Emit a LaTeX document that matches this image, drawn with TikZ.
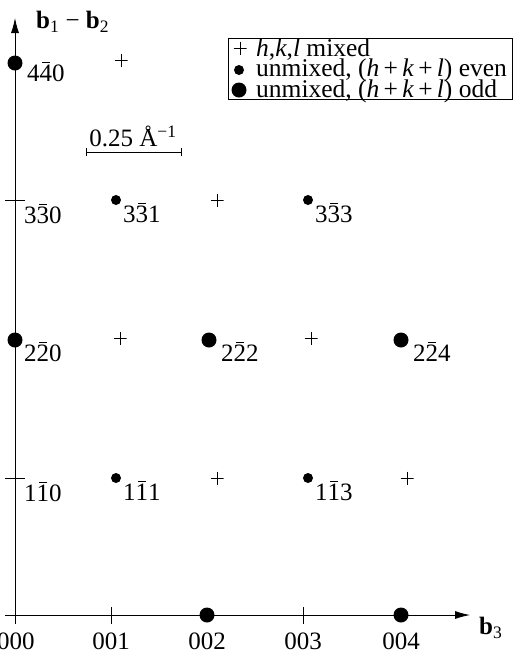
\documentclass[tikz,border=0pt]{standalone}
\usepackage{fontspec}
\setmainfont{Liberation Serif}
\usetikzlibrary{arrows.meta}
\newcommand\nb[1]{\ooalign{#1\cr\hidewidth\raisebox{0.74em}{\rule{0.3em}{0.05em}}\hidewidth\cr}}
\tikzset{
  lbl/.style={font=\fontsize{25}{27}\selectfont, inner sep=0pt},
  legtxt/.style={font=\fontsize{25.5}{27}\selectfont, inner sep=0pt, anchor=base west, text height=13pt, text depth=4pt},
  hkl/.style={lbl, anchor=north west},
  sdot/.style={circle, fill=black, inner sep=0pt, minimum size=10pt},
  bdot/.style={circle, fill=black, inner sep=0pt, minimum size=15pt},
  pls/.style={inner sep=0pt, minimum size=13pt, path picture={\draw[line width=0.6pt] (path picture bounding box.west)--(path picture bounding box.east) (path picture bounding box.north)--(path picture bounding box.south);}},
  axis/.style={line width=0.8pt, -{Latex[length=15pt,width=8pt]}},
  tick/.style={line width=0.8pt}
}
\begin{document}
\begin{tikzpicture}[x=1pt,y=-1pt]
\useasboundingbox (0,0) rectangle (528,657);
% axes
\coordinate (xs) at (5,615);
\coordinate (xe) at (470,615);
\coordinate (ys) at (15,624);
\coordinate (ye) at (15,18);
\draw[axis] (xs) -- (xe);
\draw[axis] (ys) -- (ye);
\node[lbl, anchor=west] (b3) at (479,628) {\textbf{b}\textsubscript{3}};
\node[lbl, anchor=west] (b12) at (36,22) {\textbf{b}\textsubscript{1} − \textbf{b}\textsubscript{2}};
% ticks on x axis
\foreach \x/\n in {111/t1,303/t3}{
  \coordinate (\n a) at (\x,607); \coordinate (\n b) at (\x,624);
  \draw[tick] (\n a) -- (\n b);
}
% ticks on y axis
\foreach \y/\n in {478/u1,200/u3}{
  \coordinate (\n a) at (5,\y); \coordinate (\n b) at (25,\y);
  \draw[tick] (\n a) -- (\n b);
}
% bottom labels
\foreach \x/\t in {16/000,111/001,207/002,303/003,401/004}{
  \node[lbl] (l\t) at (\x,641) {\t};
}
% row 0
\node[bdot] (p002) at (207,615) {};
\node[bdot] (p004) at (401,615) {};
% row 1
\node[hkl] (l110) at (24,485) {1\nb{1}0};
\node[sdot] (p111) at (116,478) {};
\node[hkl] (l111) at (p111.center) [xshift=7pt, yshift=-6pt] {1\nb{1}1};
\node[pls] (m112) at (217,478) {};
\node[sdot] (p113) at (308,478) {};
\node[hkl] (l113) at (p113.center) [xshift=7pt, yshift=-6pt] {1\nb{1}3};
\node[pls] (m114) at (407,478) {};
% row 2
\node[bdot] (p220) at (15,340) {};
\node[hkl] (l220) at (p220.center) [xshift=9pt, yshift=-5pt] {2\nb{2}0};
\node[pls] (m221) at (120,338) {};
\node[bdot] (p222) at (209,340) {};
\node[hkl] (l222) at (p222.center) [xshift=12pt, yshift=-5pt] {2\nb{2}2};
\node[pls] (m223) at (311,338) {};
\node[bdot] (p224) at (401,340) {};
\node[hkl] (l224) at (p224.center) [xshift=12pt, yshift=-5pt] {2\nb{2}4};
% row 3
\node[hkl] (l330) at (24,207) {3\nb{3}0};
\node[sdot] (p331) at (116,200) {};
\node[hkl] (l331) at (p331.center) [xshift=7pt, yshift=-6pt] {3\nb{3}1};
\node[pls] (m332) at (217,200) {};
\node[sdot] (p333) at (308,200) {};
\node[hkl] (l333) at (p333.center) [xshift=7pt, yshift=-6pt] {3\nb{3}3};
% row 4
\node[bdot] (p440) at (15,63) {};
\node[hkl] (l440) at (p440.center) [xshift=12pt, yshift=-2pt] {4\nb{4}0};
\node[pls] (m441) at (121,60) {};
% scale bar
\coordinate (sa) at (86,152);
\coordinate (sb) at (181,152);
\draw[tick] (sa) -- (sb);
\draw[tick] ([yshift=-4pt]sa) -- ([yshift=4pt]sa);
\draw[tick] ([yshift=-4pt]sb) -- ([yshift=4pt]sb);
\node[lbl, anchor=south] (sl) at (133,147) {0.25 Å\textsuperscript{−1}};
% legend
\node[draw, line width=0.9pt, minimum width=284pt, minimum height=61pt, anchor=north west, inner sep=0pt] (leg) at (228,38) {};
\node[pls] (lg1) at (240,48) {};
\node[legtxt] (lt1) at (256,56) {\textit{h},\textit{k},\textit{l} mixed};
\node[sdot] (lg2) at (239,70) {};
\node[legtxt] (lt2) at (256,76.5) {unmixed, (\textit{h}\,+\,\textit{k}\,+\,\textit{l}) even};
\node[bdot] (lg3) at (239,90) {};
\node[legtxt] (lt3) at (256,97) {unmixed, (\textit{h}\,+\,\textit{k}\,+\,\textit{l}) odd};
\end{tikzpicture}
\end{document}
